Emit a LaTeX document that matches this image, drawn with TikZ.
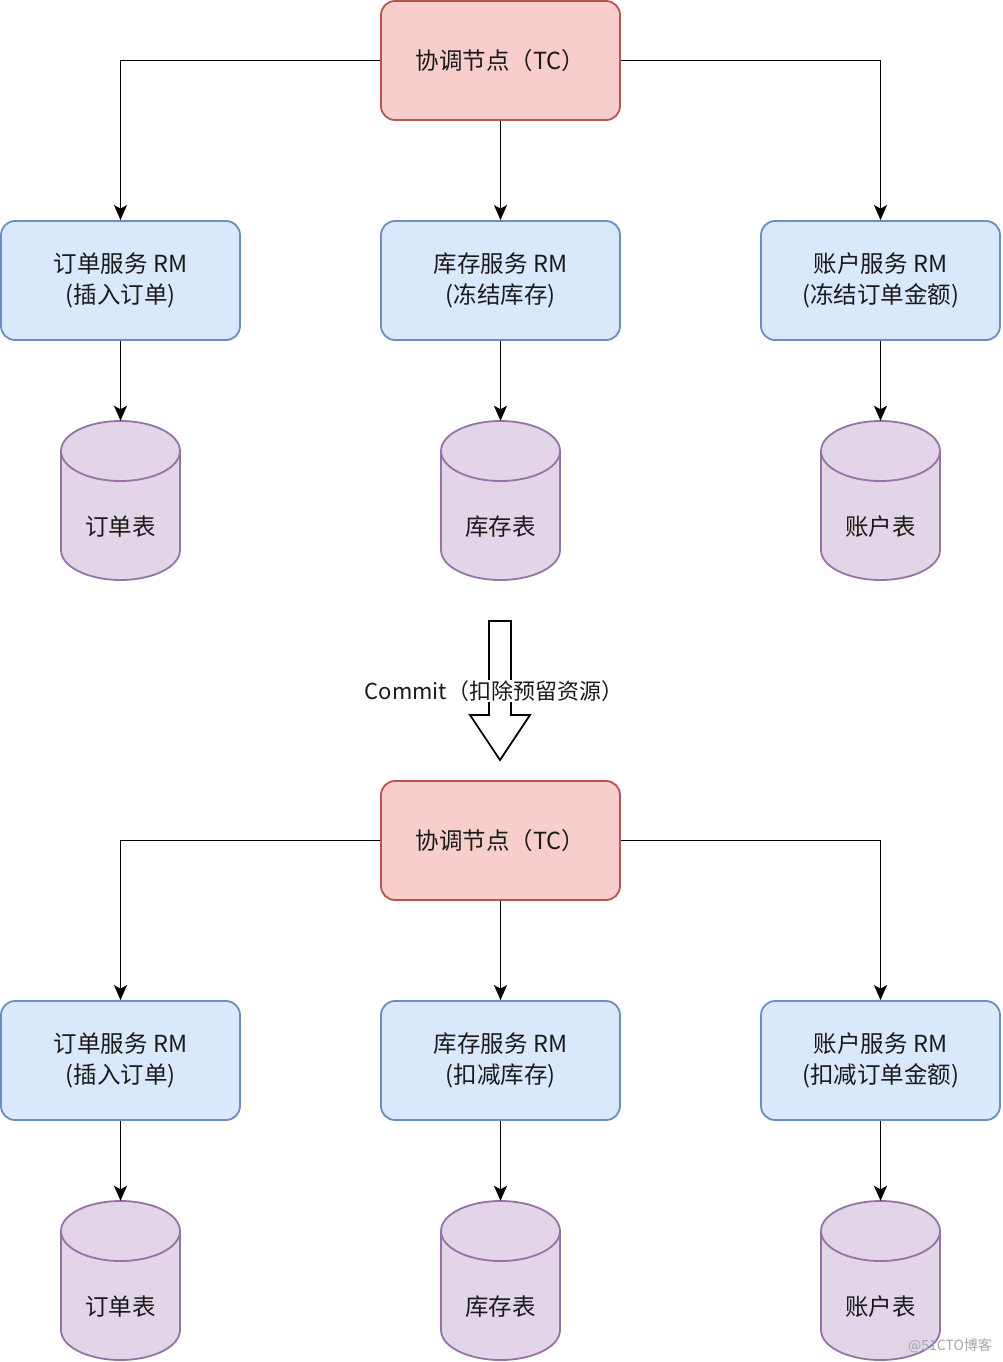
\documentclass[tikz,border=0pt]{standalone}
\usepackage{fontspec}
\setmainfont{Noto Sans CJK SC}
\usetikzlibrary{arrows.meta}
\definecolor{tcfill}{HTML}{F8CECC}
\definecolor{tcline}{HTML}{B85450}
\definecolor{rmfill}{HTML}{DAE8FC}
\definecolor{rmline}{HTML}{6C8EBF}
\definecolor{cyfill}{HTML}{E1D5E7}
\definecolor{cyline}{HTML}{9673A6}
\definecolor{txt}{HTML}{1A1A1A}
\newcommand{\mycyl}[2]{%
  \filldraw[cylstyle] (#1-59.5,#2+30) -- (#1-59.5,#2+129)
    arc[start angle=180,end angle=360,x radius=59.5pt,y radius=30pt]
    -- (#1+59.5,#2+30)
    arc[start angle=0,end angle=180,x radius=59.5pt,y radius=30pt] -- cycle;
  \draw[cylstyle,fill=none] (#1-59.5,#2+30)
    arc[start angle=180,end angle=360,x radius=59.5pt,y radius=30pt];}
\begin{document}
\begin{tikzpicture}[x=1pt,y=-1pt,
  every node/.style={text=txt},
  basebox/.style={rounded corners=14pt, minimum width=239pt, minimum height=119pt,
    line width=1.8pt, font=\fontsize{23.5}{31}\selectfont, align=center, inner sep=0pt},
  tcbox/.style={basebox, draw=tcline, fill=tcfill},
  rmbox/.style={basebox, draw=rmline, fill=rmfill},
  cylnode/.style={minimum width=119pt, minimum height=159pt, inner sep=0pt},
  cyltext/.style={font=\fontsize{23.5}{28}\selectfont, inner sep=0pt},
  cylstyle/.style={draw=cyline, fill=cyfill, line width=1.8pt},
  conn/.style={line width=1.8pt, -{Stealth[length=15pt,width=13pt,inset=3.5pt]}}]
\fill[white] (0,0) rectangle (1002,1362);
\useasboundingbox (0,0) rectangle (1002,1362);

% ---------- top section ----------
\node[tcbox] (tc1) at (500.5,60.5) {协调节点（TC）};
\node[rmbox] (rm1) at (120.5,280.5) {订单服务 RM\\(插入订单)};
\node[rmbox] (rm2) at (500.5,280.5) {库存服务 RM\\(冻结库存)};
\node[rmbox] (rm3) at (880.5,280.5) {账户服务 RM\\(冻结订单金额)};
\mycyl{120.5}{421}
\mycyl{500.5}{421}
\mycyl{880.5}{421}
\node[cylnode] (cy1) at (120.5,500.5) {};
\node[cylnode] (cy2) at (500.5,500.5) {};
\node[cylnode] (cy3) at (880.5,500.5) {};
\node[cyltext] (ct1) at (120.5,527) {订单表};
\node[cyltext] (ct2) at (500.5,527) {库存表};
\node[cyltext] (ct3) at (880.5,527) {账户表};
\draw[conn] (tc1.west) -| (rm1.north);
\draw[conn] (tc1.south) -- (rm2.north);
\draw[conn] (tc1.east) -| (rm3.north);
\draw[conn] (rm1.south) -- (cy1.north);
\draw[conn] (rm2.south) -- (cy2.north);
\draw[conn] (rm3.south) -- (cy3.north);

% ---------- block arrow ----------
\filldraw[draw=black, fill=white, line width=1.8pt, line join=miter]
  (489,621) -- (511,621) -- (511,715) -- (530,715) -- (500,760)
  -- (470,715) -- (489,715) -- cycle;
\node[fill=white, inner sep=1pt, font=\fontsize{22}{26}\selectfont] (commit) at (494,691)
  {Commit（扣除预留资源）};

% ---------- bottom section ----------
\node[tcbox] (tc2) at (500.5,840.5) {协调节点（TC）};
\node[rmbox] (rm4) at (120.5,1060.5) {订单服务 RM\\(插入订单)};
\node[rmbox] (rm5) at (500.5,1060.5) {库存服务 RM\\(扣减库存)};
\node[rmbox] (rm6) at (880.5,1060.5) {账户服务 RM\\(扣减订单金额)};
\mycyl{120.5}{1201}
\mycyl{500.5}{1201}
\mycyl{880.5}{1201}
\node[cylnode] (cy4) at (120.5,1280.5) {};
\node[cylnode] (cy5) at (500.5,1280.5) {};
\node[cylnode] (cy6) at (880.5,1280.5) {};
\node[cyltext] (ct4) at (120.5,1307) {订单表};
\node[cyltext] (ct5) at (500.5,1307) {库存表};
\node[cyltext] (ct6) at (880.5,1307) {账户表};
\draw[conn] (tc2.west) -| (rm4.north);
\draw[conn] (tc2.south) -- (rm5.north);
\draw[conn] (tc2.east) -| (rm6.north);
\draw[conn] (rm4.south) -- (cy4.north);
\draw[conn] (rm5.south) -- (cy5.north);
\draw[conn] (rm6.south) -- (cy6.north);

% watermark
\node[text=black!35, font=\fontsize{14}{16}\selectfont, inner sep=0pt] (wm) at (950,1346) {@51CTO博客};
\end{tikzpicture}
\end{document}
